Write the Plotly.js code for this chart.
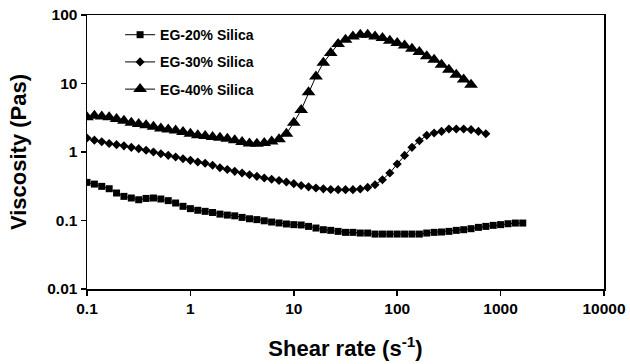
<!DOCTYPE html>
<html>
<head>
<meta charset="utf-8">
<script src="https://cdn.plot.ly/plotly-3.0.1.min.js"></script>
<style>
  html, body { margin: 0; padding: 0; background: #fff; }
  #chart { width: 630px; height: 364px; }
</style>
</head>
<body>
<div id="chart"></div>
<script>
// Shear rate (s^-1), logarithmic sweep
const shearRate = [
  0.1, 0.1179, 0.1389, 0.1638, 0.1931, 0.2276, 0.2683, 0.3162, 0.3728, 0.4394, 0.5179, 0.6105, 0.7197, 0.8483,
  1, 1.179, 1.389, 1.638, 1.931, 2.276, 2.683, 3.162, 3.728, 4.394, 5.179, 6.105, 7.197, 8.483,
  10, 11.79, 13.89, 16.38, 19.31, 22.76, 26.83, 31.62, 37.28, 43.94, 51.79, 61.05, 71.97, 84.83,
  100, 117.9, 138.9, 163.8, 193.1, 227.6, 268.3, 316.2, 372.8, 439.4, 517.9, 610.5, 719.7, 848.3,
  1000, 1179, 1389, 1638
];

// Viscosity (Pa s)
const eg20 = [
  0.360, 0.340, 0.315, 0.291, 0.252, 0.225, 0.213, 0.201, 0.210, 0.213, 0.206, 0.195, 0.180, 0.161,
  0.149, 0.141, 0.136, 0.131, 0.124, 0.120, 0.117, 0.111, 0.106, 0.103, 0.099, 0.095, 0.092, 0.089,
  0.087, 0.086, 0.082, 0.0776, 0.0734, 0.0718, 0.0694, 0.0671, 0.0671, 0.0656, 0.0656, 0.0634, 0.0634, 0.0634,
  0.0634, 0.0634, 0.0634, 0.0634, 0.0656, 0.0671, 0.0679, 0.0694, 0.0718, 0.0734, 0.0759, 0.0794, 0.082, 0.0849,
  0.087, 0.0897, 0.0918, 0.0918
];
const eg30 = [
  1.60, 1.49, 1.41, 1.33, 1.28, 1.23, 1.17, 1.12, 1.06, 1.00, 0.945, 0.893, 0.845, 0.798,
  0.755, 0.714, 0.685, 0.640, 0.590, 0.555, 0.522, 0.493, 0.466, 0.441, 0.417, 0.400, 0.383, 0.364,
  0.345, 0.325, 0.310, 0.298, 0.290, 0.284, 0.282, 0.282, 0.282, 0.288, 0.304, 0.333, 0.394, 0.494,
  0.668, 0.892, 1.17, 1.46, 1.75, 1.89, 2.00, 2.17, 2.17, 2.17, 2.12, 2.00, 1.85
];
const eg40 = [
  3.22, 3.39, 3.31, 3.22, 3.03, 2.86, 2.68, 2.56, 2.46, 2.34, 2.21, 2.13, 2.06, 1.96,
  1.85, 1.76, 1.71, 1.65, 1.61, 1.56, 1.49, 1.40, 1.33, 1.32, 1.35, 1.42, 1.54, 1.85,
  2.68, 4.12, 7.46, 12.7, 20.1, 27.9, 37.7, 43.6, 48.7, 51.5, 51.5, 48.7, 46.2, 42.2,
  39.0, 36.0, 32.2, 28.8, 24.9, 22.3, 18.8, 15.9, 13.4, 11.4, 9.6
];

const seriesNames = ['EG-20% Silica', 'EG-30% Silica', 'EG-40% Silica'];

const xTickVals = [0.1, 1, 10, 100, 1000, 10000];
const xTickText = ['0.1', '1', '10', '100', '1000', '10000'];
const yTickVals = [0.01, 0.1, 1, 10, 100];
const yTickText = ['0.01', '0.1', '1', '10', '100'];

const FONT = 'Liberation Sans, Arial, sans-serif';

function trace(y, name, symbol, size, group) {
  return {
    x: shearRate.slice(0, y.length),
    y: y,
    name: name,
    legendgroup: group,
    type: 'scatter',
    mode: 'lines+markers',
    line: { color: '#000', width: 1 },
    marker: { symbol: symbol, size: size, color: '#000' }
  };
}

const data = [
  trace(eg20, seriesNames[0], 'square', 7, 'g1'),
  trace(eg30, seriesNames[1], 'diamond', 7, 'g2'),
  trace(eg40, seriesNames[2], 'triangle-up', 12, 'g3')
];

const layout = {
  width: 630,
  height: 364,
  margin: { l: 87, r: 26, t: 15, b: 75 },
  paper_bgcolor: '#fff',
  plot_bgcolor: '#fff',
  font: { family: FONT, color: '#000' },
  showlegend: true,
  legend: {
    x: 0.064, y: 0.985, xanchor: 'left', yanchor: 'top',
    bgcolor: 'rgba(0,0,0,0)',
    font: { family: FONT, size: 14, color: '#000', weight: 'bold' },
    traceorder: 'grouped',
    tracegroupgap: 6
  },
  xaxis: {
    type: 'log',
    range: [-1, 4],
    tickvals: xTickVals,
    ticktext: xTickText,
    ticks: 'outside',
    ticklen: 5,
    tickwidth: 1.5,
    tickcolor: '#000',
    showline: true,
    linecolor: '#000',
    linewidth: 1.5,
    mirror: true,
    showgrid: false,
    zeroline: false,
    tickfont: { family: FONT, size: 15.5, color: '#000', weight: 'bold' },
    title: {
      text: 'Shear rate (s<sup>-1</sup>)',
      font: { family: FONT, size: 22, color: '#000', weight: 'bold' },
      standoff: 24
    }
  },
  yaxis: {
    type: 'log',
    range: [-2, 2],
    tickvals: yTickVals,
    ticktext: yTickText,
    ticks: 'outside',
    ticklen: 5,
    tickwidth: 1.5,
    tickcolor: '#000',
    showline: true,
    linecolor: '#000',
    linewidth: 1.5,
    mirror: true,
    showgrid: false,
    zeroline: false,
    tickfont: { family: FONT, size: 15.5, color: '#000', weight: 'bold' },
    title: {
      text: 'Viscosity (Pas)',
      font: { family: FONT, size: 22, color: '#000', weight: 'bold' },
      standoff: 14
    }
  }
};

Plotly.newPlot('chart', data, layout, { staticPlot: true, displayModeBar: false });
</script>
</body>
</html>
